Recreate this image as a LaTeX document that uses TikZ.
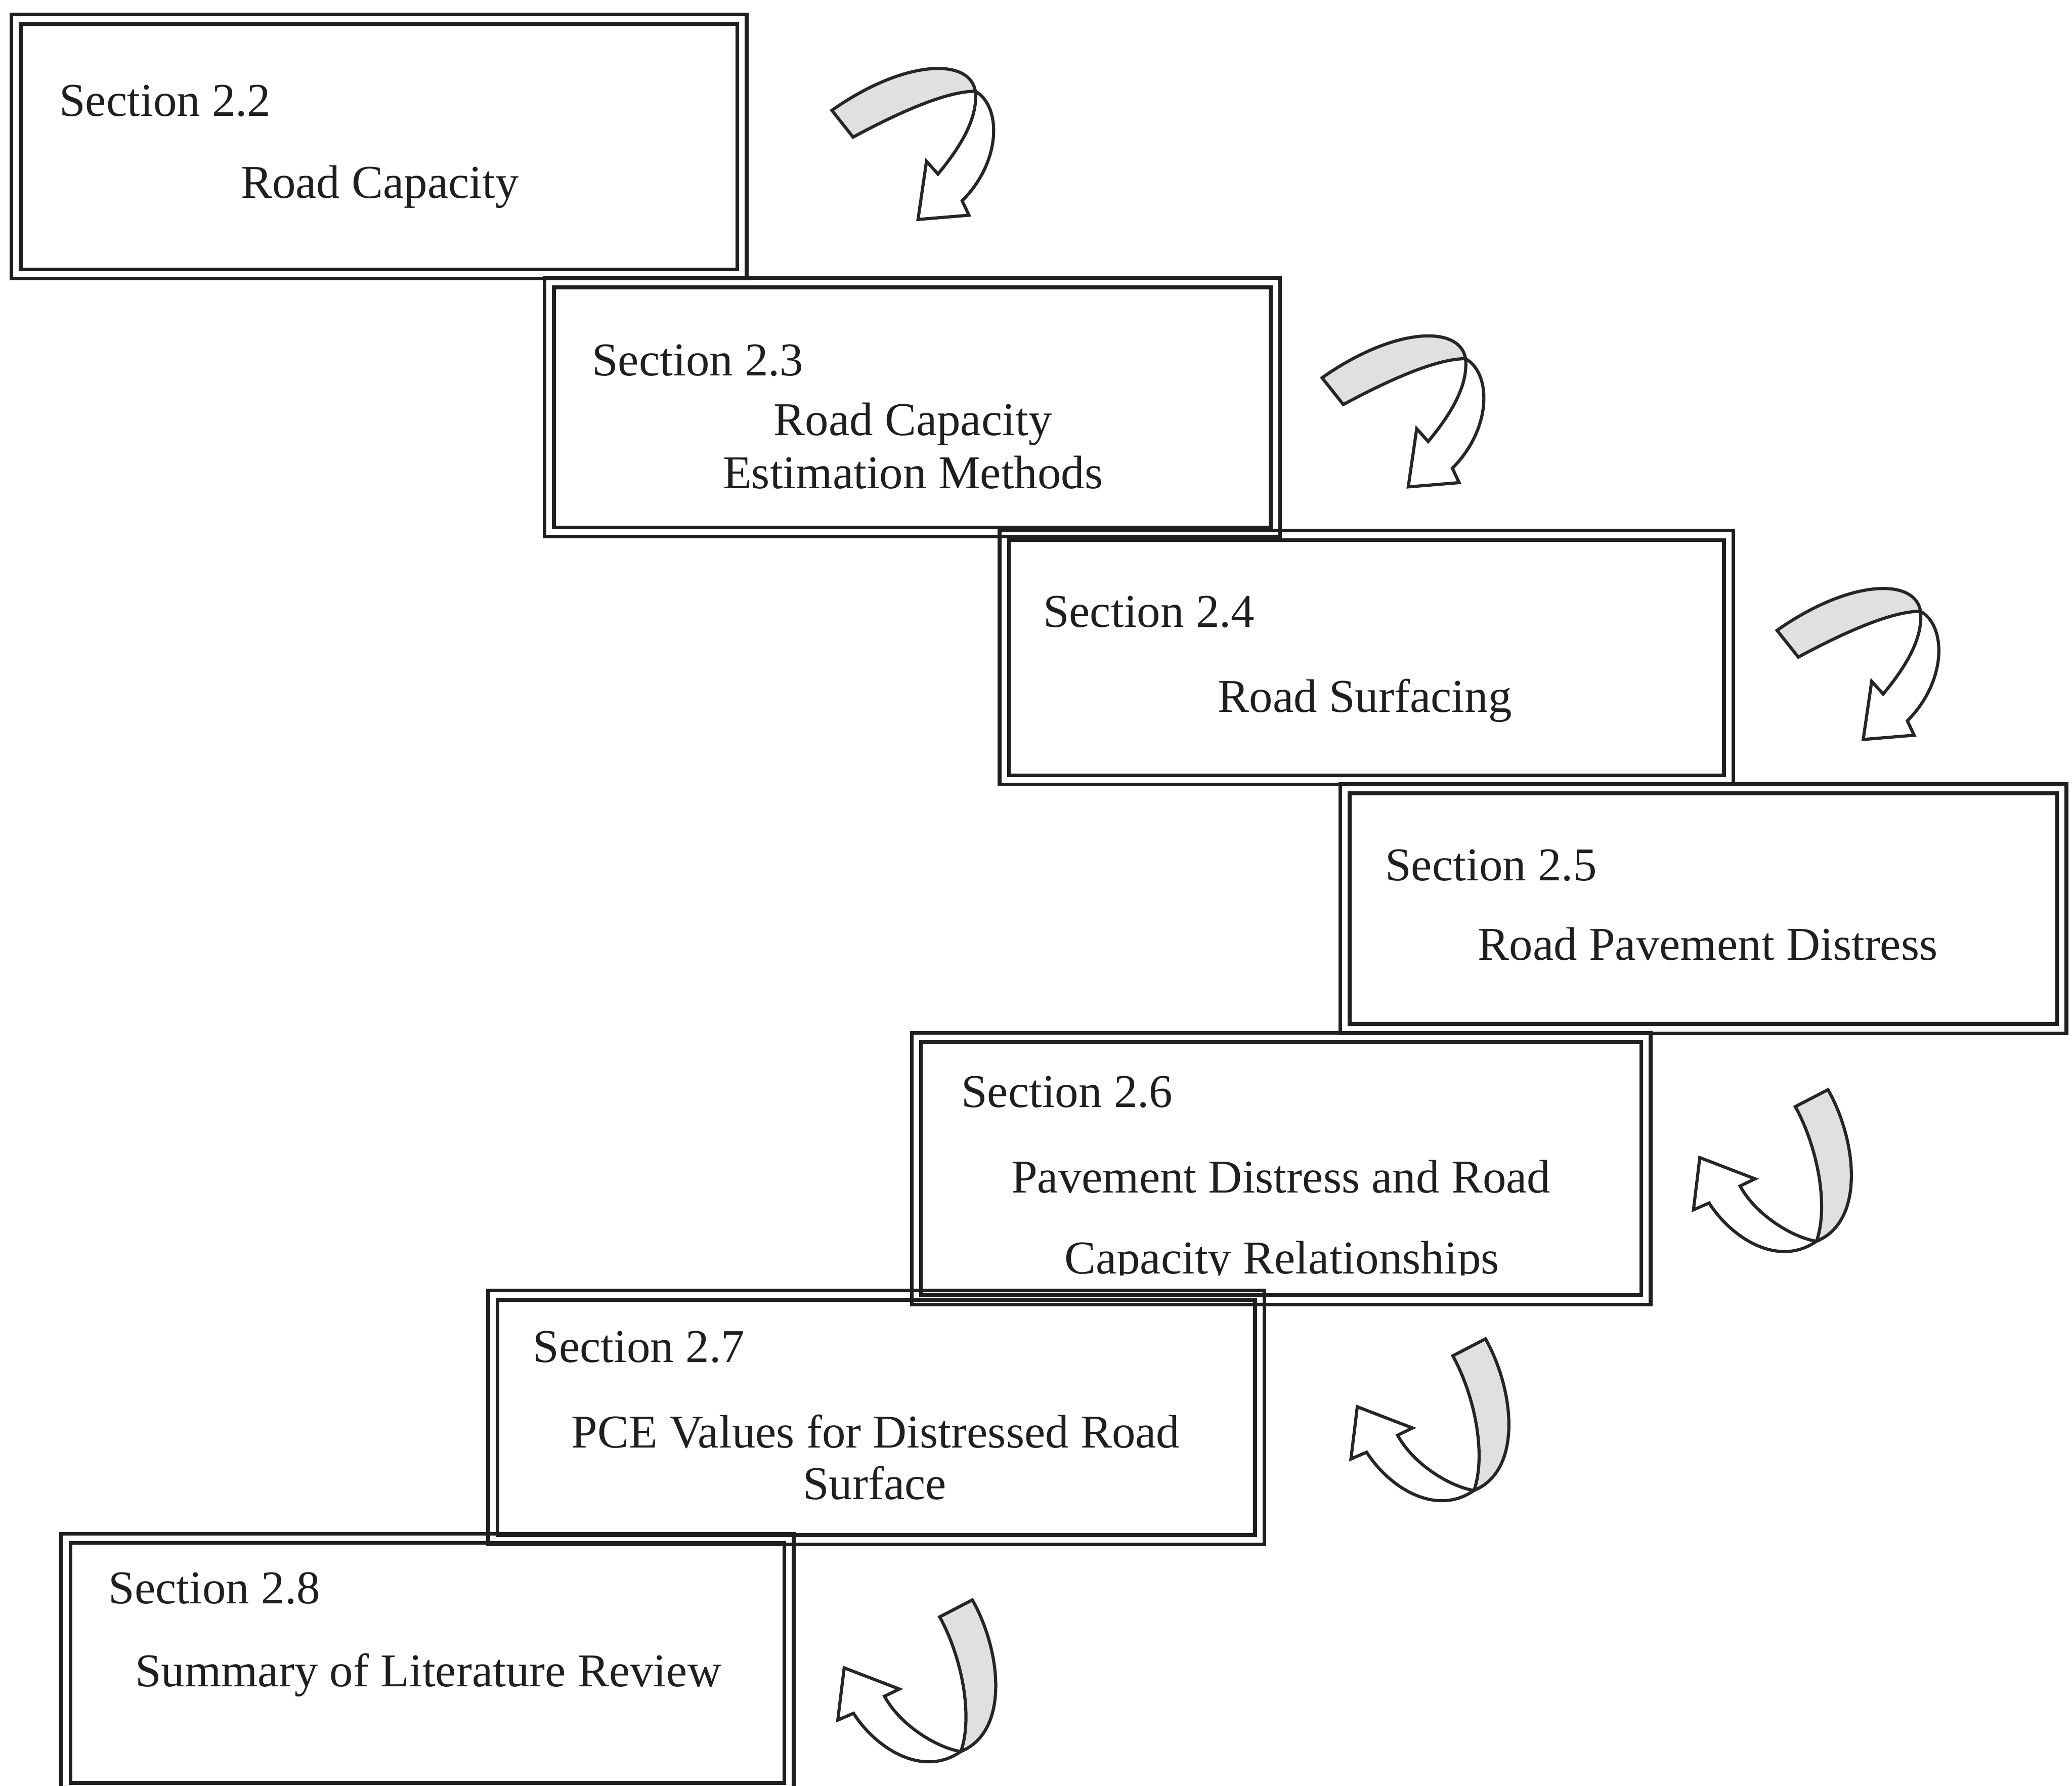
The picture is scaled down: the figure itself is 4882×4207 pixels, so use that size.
\documentclass[tikz,border=0pt]{standalone}
\usepackage{fontspec}
\setmainfont{Liberation Serif}
\usetikzlibrary{calc}
\tikzset{
  boxline/.style={line width=2.5pt, draw=black!88},
  secbox/.style={draw=black!88, line width=2.5pt, rectangle, inner sep=0pt, outer sep=0pt, anchor=north west},
  lbl/.style={inner sep=0pt, font=\fontsize{31.5}{38}\selectfont, text=black!88},
  arrline/.style={line width=2.1pt, draw=black!85},
  arrdown/.pic={
    \draw[arrline, fill=white] (338,-45) .. controls (400,-10) and (400,120) .. (307,213)
      -- (323,247) -- (203,257) -- (223,120) -- (250,150)
      .. controls (300,90) and (345,20) .. (338,-45) -- cycle;
    \draw[arrline, fill=black!12] (0,0) -- (50,63) .. controls (130,20) and (260,-45) .. (338,-45)
      .. controls (325,-125) and (170,-120) .. (0,0) -- cycle;
  },
  arrup/.pic={
    \draw[arrline, fill=white] (50,317) .. controls (0,310) and (-90,260) .. (-130,187)
      -- (-95,170) -- (-225,120) -- (-240,243) -- (-203,227)
      .. controls (-150,310) and (-40,380) .. (50,317) -- cycle;
    \draw[arrline, fill=black!12] (0,0) -- (77,-40) .. controls (145,80) and (165,270) .. (50,317)
      .. controls (80,230) and (50,90) .. (0,0) -- cycle;
  }
}
\begin{document}
\begin{tikzpicture}[x=0.01cm,y=-0.01cm]
\path[use as bounding box, fill=white] (0,0) rectangle (4882,4207);

% boxes (outer line + inner line)
\node[secbox, minimum width=17.31cm, minimum height=6.22cm] (b1) at (27,34) {};
\draw[boxline] ($(b1.north west)+(22,22)$) rectangle ($(b1.south east)+(-22,-22)$);
\node[secbox, minimum width=17.32cm, minimum height=6.09cm] (b2) at (1283,655) {};
\draw[boxline] ($(b2.north west)+(22,22)$) rectangle ($(b2.south east)+(-22,-22)$);
\node[secbox, minimum width=17.28cm, minimum height=5.98cm] (b3) at (2355,1250) {};
\draw[boxline] ($(b3.north west)+(22,22)$) rectangle ($(b3.south east)+(-22,-22)$);
\node[secbox, minimum width=17.10cm, minimum height=5.87cm] (b4) at (3158,1847) {};
\draw[boxline] ($(b4.north west)+(22,22)$) rectangle ($(b4.south east)+(-22,-22)$);
\node[secbox, minimum width=17.40cm, minimum height=6.40cm] (b5) at (2148,2433) {};
\draw[boxline] ($(b5.north west)+(22,22)$) rectangle ($(b5.south east)+(-22,-22)$);
\node[secbox, minimum width=18.28cm, minimum height=5.98cm] (b6) at (1150,3040) {};
\draw[boxline] ($(b6.north west)+(22,22)$) rectangle ($(b6.south east)+(-22,-22)$);
\node[secbox, minimum width=17.25cm, minimum height=6.09cm] (b7) at (144,3613) {};
\draw[boxline] ($(b7.north west)+(22,22)$) rectangle ($(b7.south east)+(-22,-22)$);

% texts
\node[lbl, anchor=base west] (s22) at (139,273) {Section 2.2};
\node[lbl, anchor=base] (t22) at (895,467) {Road Capacity};
\node[lbl, anchor=base west] (s23) at (1394,885) {Section 2.3};
\node[lbl, anchor=base] (t23a) at (2151,1026) {Road Capacity};
\node[lbl, anchor=base] (t23b) at (2151,1151) {Estimation Methods};
\node[lbl, anchor=base west] (s24) at (2457,1477) {Section 2.4};
\node[lbl, anchor=base] (t24) at (3216,1677) {Road Surfacing};
\node[lbl, anchor=base west] (s25) at (3263,2075) {Section 2.5};
\node[lbl, anchor=base] (t25) at (4024,2262) {Road Pavement Distress};
\node[lbl, anchor=base west] (s26) at (2264,2608) {Section 2.6};
\node[lbl, anchor=base] (t26a) at (3018,2810) {Pavement Distress and Road};
\begin{scope}
  \clip (2170,2850) rectangle (3860,3004);
  \node[lbl, anchor=base] (t26b) at (3020,3000) {Capacity Relationships};
\end{scope}
\node[lbl, anchor=base west] (s27) at (1255,3209) {Section 2.7};
\node[lbl, anchor=base] (t27a) at (2063,3411) {PCE Values for Distressed Road};
\node[lbl, anchor=base] (t27b) at (2061,3532) {Surface};
\node[lbl, anchor=base west] (s28) at (255,3778) {Section 2.8};
\node[lbl, anchor=base] (t28) at (1009,3973) {Summary of Literature Review};

% twisted arrows
\pic at (1960,260) {arrdown};
\pic at (3115,890) {arrdown};
\pic at (4187,1485) {arrdown};
\pic at (4230,2607) {arrup};
\pic at (3423,3194) {arrup};
\pic at (2214,3809) {arrup};
\end{tikzpicture}
\end{document}
